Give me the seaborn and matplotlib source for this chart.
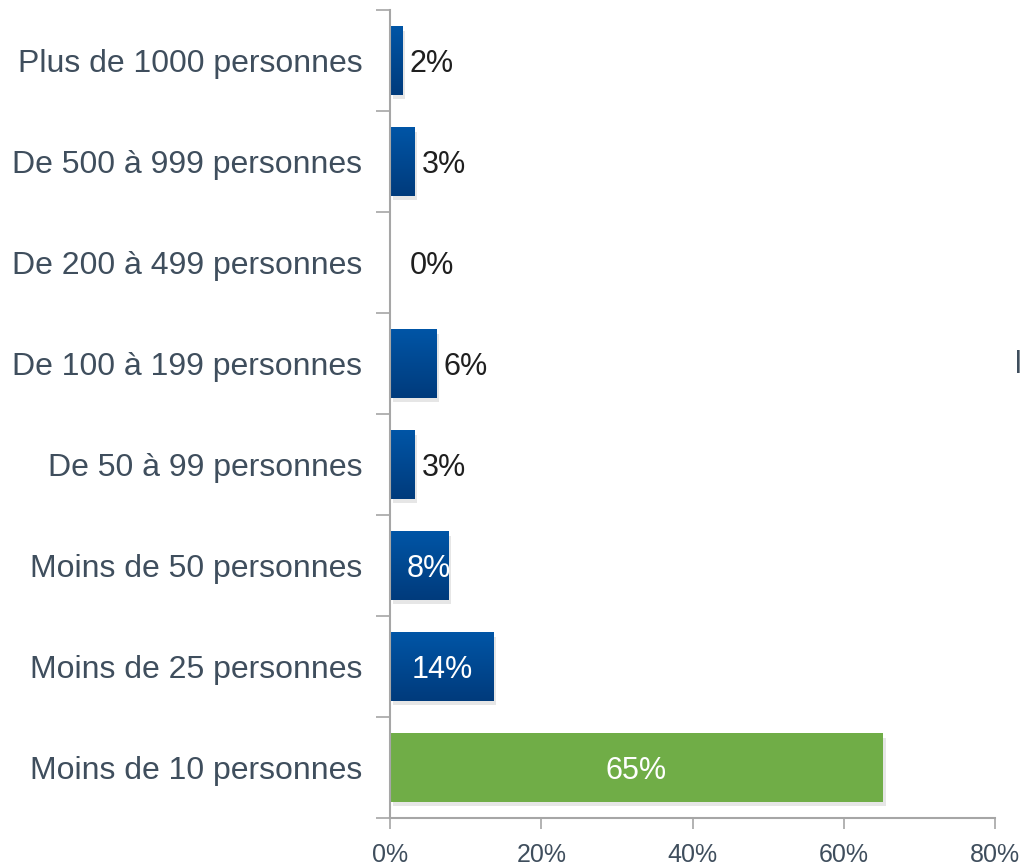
import numpy as np
import pandas as pd
import seaborn as sns
import matplotlib.pyplot as plt
import matplotlib.patheffects as pe
from matplotlib.colors import LinearSegmentedColormap
from matplotlib.ticker import FuncFormatter

categories = ['Plus de 1000 personnes', 'De 500 à 999 personnes', 'De 200 à 499 personnes',
              'De 100 à 199 personnes', 'De 50 à 99 personnes', 'Moins de 50 personnes',
              'Moins de 25 personnes', 'Moins de 10 personnes']
values = [1.6, 3.2, 0.0, 6.1, 3.2, 7.7, 13.7, 65.2]
labels = ['2%', '3%', '0%', '6%', '3%', '8%', '14%', '65%']
bar_colors = ['#00489a'] * 7 + ['#70ad47']

df = pd.DataFrame({'cat': categories, 'val': values})

sns.set_style('white')
plt.rcParams['font.family'] = ['Liberation Sans', 'DejaVu Sans']
text_col = '#3f4e5d'
axis_col = '#a6a6a6'

fig = plt.figure(figsize=(10.24, 8.65), dpi=100)
ax = fig.add_axes([390 / 1024, 1 - 818 / 865, 605 / 1024, 808 / 865])

sns.barplot(data=df, y='cat', x='val', hue='cat', palette=bar_colors, legend=False,
            width=0.675, saturation=1.0, ax=ax, orient='h')

# gradient + soft shadow on the bars
blue_grad = LinearSegmentedColormap.from_list('bg', ['#0055a6', '#003b7c'])
grad = np.linspace(0, 1, 64).reshape(-1, 1)
for i, p in enumerate(ax.patches):
    p.set_linewidth(0)
    p.set_path_effects([pe.SimplePatchShadow(offset=(2, -3), alpha=0.12, shadow_rgbFace='#333333'),
                        pe.Normal()])
    if i < 7 and p.get_width() > 0:
        x0, y0 = p.get_x(), p.get_y()
        w, h = p.get_width(), p.get_height()
        im = ax.imshow(grad, cmap=blue_grad, aspect='auto', extent=(x0, x0 + w, y0 + h, y0),
                       origin='upper', zorder=p.get_zorder() + 0.1)
        im.set_clip_path(p)

ax.set_xlim(0, 80)
ax.set_ylim(7.5, -0.5)

# value labels
for i, (v, lab) in enumerate(zip(values, labels)):
    if v >= 7:
        ax.text(v / 2 if v > 10 else v / 2 + 1.3, i, lab, ha='center', va='center_baseline',
                color='white', fontsize=22)
    else:
        ax.text(v + (2.6 if v == 0 else 1.0), i, lab, ha='left', va='center_baseline',
                color='#1f1f1f', fontsize=22)

ax.xaxis.set_major_formatter(FuncFormatter(lambda x, pos: f'{x:.0f}%'))
ax.set_xticks([0, 20, 40, 60, 80])
ax.set_yticks(range(len(categories)))
ax.set_yticks(np.arange(-0.5, 8, 1), minor=True)
ax.tick_params(axis='y', which='major', length=0, pad=20, labelsize=23, labelcolor=text_col)
ax.tick_params(axis='y', which='minor', length=10, width=1.2, color=axis_col, left=True)
ax.tick_params(axis='x', length=8, width=1.2, color=axis_col, labelsize=18,
               labelcolor=text_col, pad=10, bottom=True)
ax.set_xlabel('')
ax.set_ylabel('')
ax.grid(False)
for s in ['top', 'right']:
    ax.spines[s].set_visible(False)
for s in ['left', 'bottom']:
    ax.spines[s].set_color(axis_col)
    ax.spines[s].set_linewidth(1.5)

# partial text at the right edge of the slide
fig.text(1015 / 1024, 1 - 365 / 865, 'l', color=text_col, fontsize=22, va='center', ha='left')

fig.savefig('out.png', dpi=100)
